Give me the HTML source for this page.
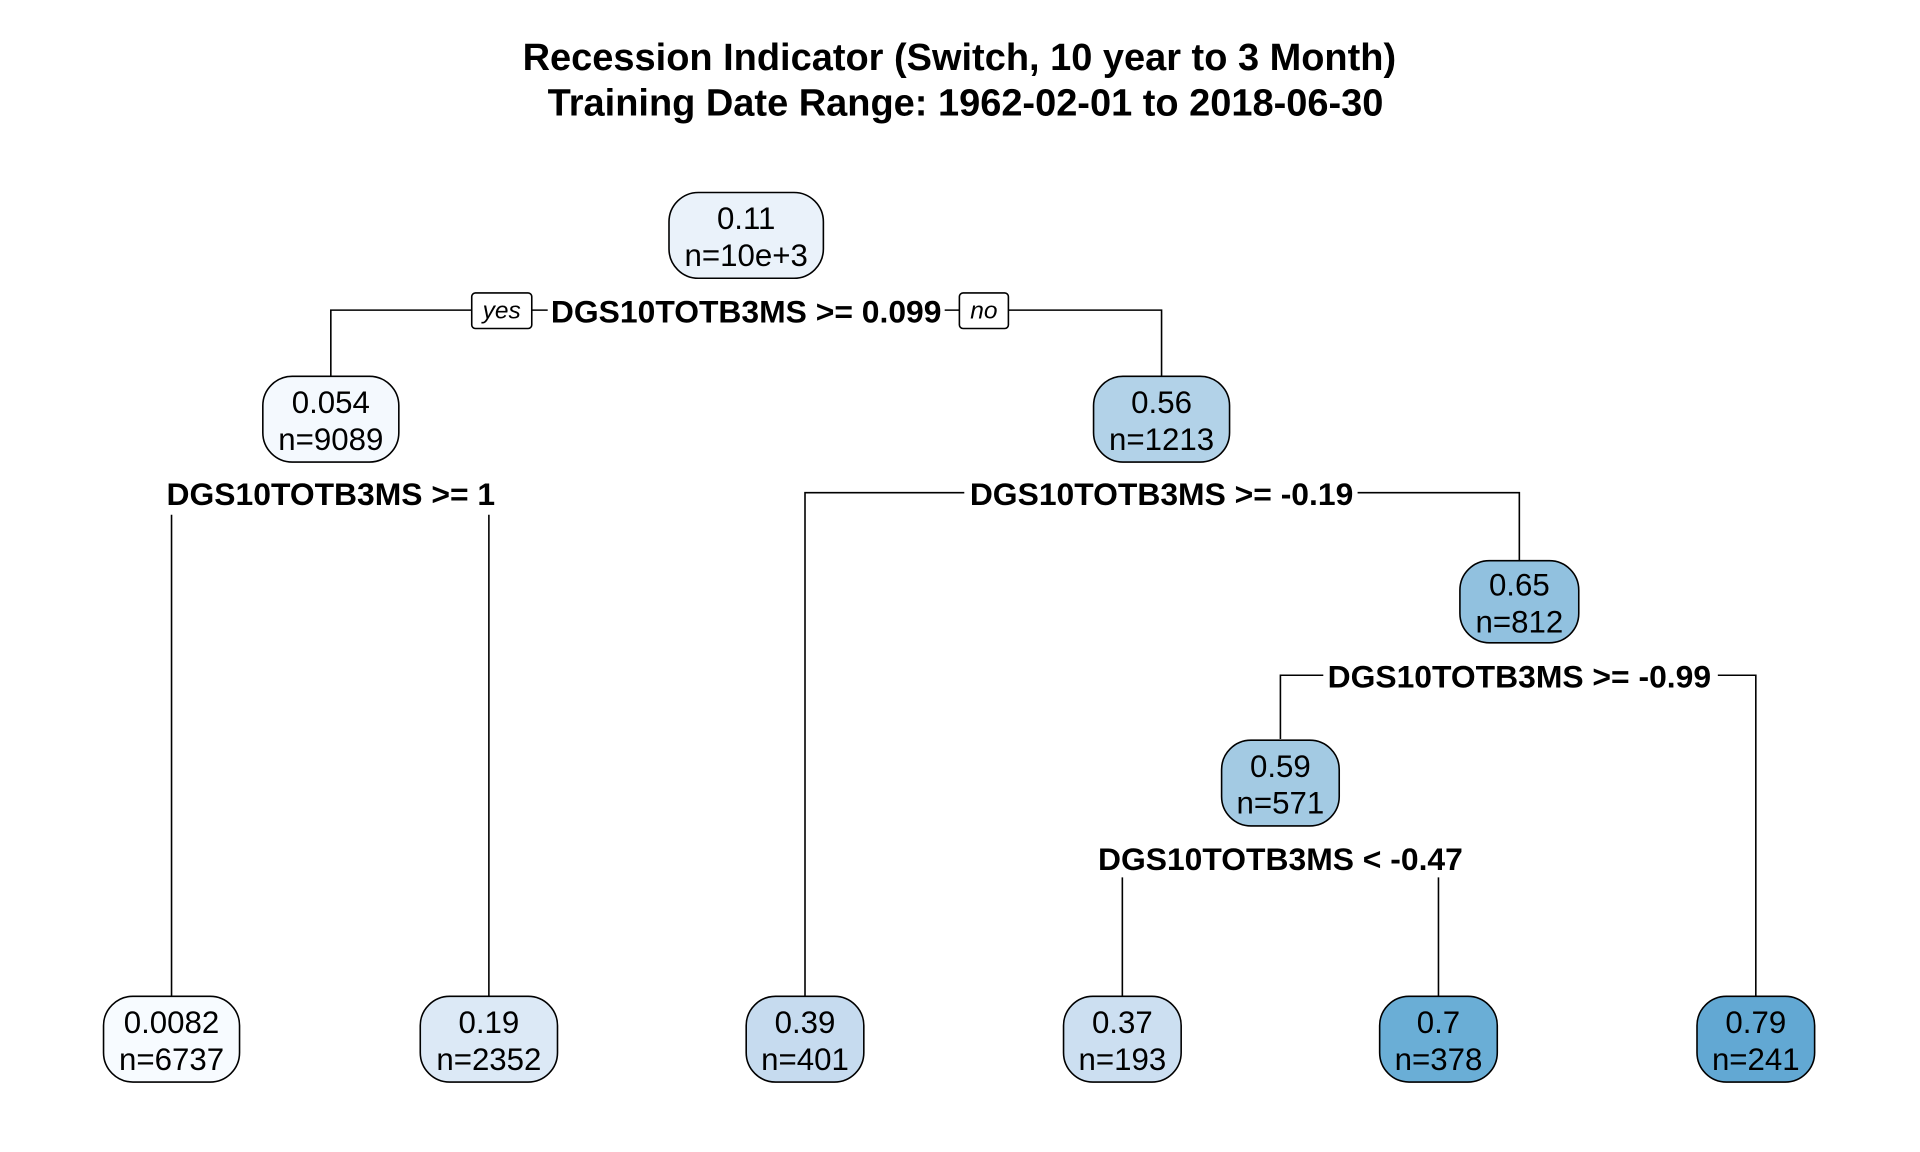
<!DOCTYPE html>
<html><head><meta charset="utf-8"><style>
html,body{margin:0;padding:0;background:#fff;}
svg{display:block;font-family:"Liberation Sans",Arial,sans-serif;}
</style></head><body>
<svg id="chart" width="1920" height="1152" viewBox="0 0 1567 940" xmlns="http://www.w3.org/2000/svg">
<text x="783" y="57" text-anchor="middle" font-size="31" font-weight="bold">Recession Indicator (Switch, 10 year to 3 Month)</text>
<text x="788" y="94" text-anchor="middle" font-size="31" font-weight="bold">Training Date Range: 1962-02-01 to 2018-06-30</text>
<g id="edges" stroke="#000" stroke-width="1.3" fill="none"></g>
<g id="splits"></g>
<g id="nodes"></g>
</svg>
<script>
// node data
const nodeValues = ["0.11","0.054","0.56","0.65","0.59","0.0082","0.19","0.39","0.37","0.7","0.79"];
const nodeCounts = ["n=10e+3","n=9089","n=1213","n=812","n=571","n=6737","n=2352","n=401","n=193","n=378","n=241"];
const nodeFills = ["#EAF2FA","#F4F9FE","#B2D2E8","#91C1DF","#A3CAE3","#F7FBFF","#DCE9F6","#C6DBEF","#CCDFF1","#6AAED6","#62A8D3"];
const splitTexts = ["DGS10TOTB3MS >= 0.099","DGS10TOTB3MS >= 1","DGS10TOTB3MS >= -0.19","DGS10TOTB3MS >= -0.99","DGS10TOTB3MS < -0.47"];
// layout
const nodeX = [609,270,948,1240,1045,140,399,657,916,1174,1433];
const nodeY = [192,342,342,491,639,848,848,848,848,848,848];
const nodeW = [126,111,111,97,96,111,112,96,96,96,96];
const splitPos = [[609,254],[270,403],[948,403],[1240,552],[1045,701]];
const NS="http://www.w3.org/2000/svg";
function mk(tag,attrs,parent){const e=document.createElementNS(NS,tag);for(const k in attrs)e.setAttribute(k,attrs[k]);parent.appendChild(e);return e;}
const edges=document.getElementById('edges'),splits=document.getElementById('splits'),nodes=document.getElementById('nodes');
const paths=[
 "M270,307 V253 H385 M434,253 H447 M771,253 H783 M823,253 H948 V307",
 "M140,420 V815 M399,420 V815",
 "M657,815 V402 H787 M1108,402 H1240 V458",
 "M1045,603 V551 H1080 M1402,551 H1433 V815",
 "M916,716 V815 M1174,716 V815"
];
paths.forEach((d,i)=>{const p=mk('path',{d:d},edges);

});
[["yes",385,434],["no",783,823]].forEach(b=>{
 const g=mk('g',{},splits);
 
 
 mk('rect',{x:b[1],y:239,width:b[2]-b[1],height:29,rx:3,fill:'#fff',stroke:'#000','stroke-width':1.3},g);
 const t=mk('text',{x:(b[1]+b[2])/2,y:260,'text-anchor':'middle','font-size':20,'font-style':'italic'},g);t.textContent=b[0];
});
splitTexts.forEach((s,i)=>{
 const t=mk('text',{x:splitPos[i][0],y:splitPos[i][1]+9,'text-anchor':'middle','font-size':26,'font-weight':'bold'},splits);
 
 
 t.textContent=s;
});
nodeValues.forEach((v,i)=>{
 const g=mk('g',{},nodes);
 
 
 const h=i===3?67:70;
 mk('rect',{x:nodeX[i]-nodeW[i]/2,y:nodeY[i]-h/2,width:nodeW[i],height:h,rx:24,fill:nodeFills[i],stroke:'#000','stroke-width':1.3},g);
 const t1=mk('text',{x:nodeX[i],y:nodeY[i]-5,'text-anchor':'middle','font-size':25.5},g);t1.textContent=v;
 const t2=mk('text',{x:nodeX[i],y:nodeY[i]+25,'text-anchor':'middle','font-size':25.5},g);t2.textContent=nodeCounts[i];
});
</script>
</body></html>
